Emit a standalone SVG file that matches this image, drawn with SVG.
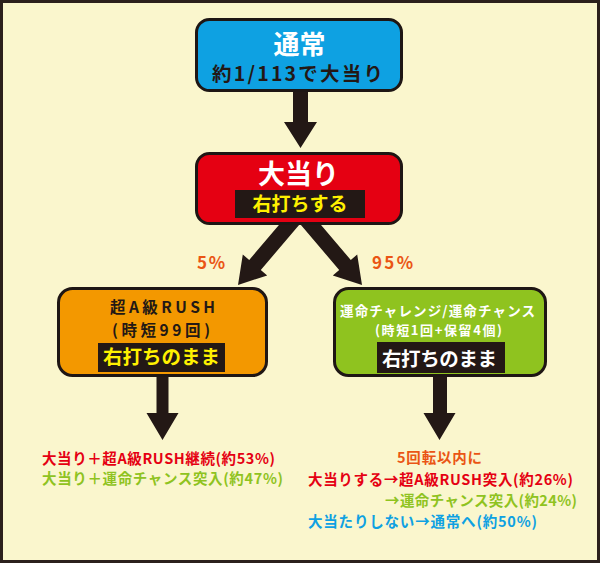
<svg xmlns="http://www.w3.org/2000/svg" width="600" height="563" viewBox="0 0 600 563">
<style>
text{font-family:"Noto Sans CJK JP","Noto Sans",sans-serif;font-weight:700;}
.box{stroke:#1e1614;stroke-width:3;}
.lbl{fill:#231815;}
.arr{fill:#231815;}
.c{text-anchor:middle;}
.yl{fill:#fff100;}
.wh{fill:#ffffff;}
.dk{fill:#231815;}
</style>
<rect x="1.5" y="1.5" width="597" height="560" fill="#faf6cd" stroke="#2b201c" stroke-width="3"/>
<g id="connectors">
<polygon class="arr" points="293,88 308,88 308,122 317,122 300.5,148 284,122 293,122"/>
<polygon class="arr" points="290,212 301.6,222 260.8,270 267.2,275.4 238,285 242.8,254.6 249.2,260"/>
<polygon class="arr" points="310,212 298.4,222 339.2,270 332.8,275.4 362,285 357.2,254.6 350.8,260"/>
<polygon class="arr" points="156.5,372 168.5,372 168.5,413 178.5,413 162.5,440 146.5,413 156.5,413"/>
<polygon class="arr" points="433,372 447,372 447,413 455.5,413 439.5,440 423.5,413 433,413"/>
<text x="211" y="269" class="c" font-size="17" fill="#ea5514" textLength="28">5%</text>
<text x="392.5" y="269" class="c" font-size="17" fill="#ea5514" textLength="41">95%</text>
</g>
<g id="node-normal">
<rect class="box" x="196.5" y="19.5" width="205" height="71" rx="13" fill="#0ea1e2"/>
<text x="299.5" y="54" class="c wh" font-size="26">通常</text>
<text x="297.5" y="81" class="c dk" font-size="19.5" textLength="171">約1/113で大当り</text>
</g>
<g id="node-hit">
<rect class="box" x="196.5" y="153.5" width="205" height="70" rx="13" fill="#e50012"/>
<text x="298.5" y="184" class="c wh" font-size="27">大当り</text>
<rect x="235" y="190" width="130" height="28" class="lbl"/>
<text x="300" y="211" class="c yl" font-size="19" textLength="95">右打ちする</text>
</g>
<g id="node-rush">
<rect class="box" x="58.5" y="288.5" width="208" height="87" rx="14" fill="#f39800"/>
<text x="162.5" y="312.5" class="c dk" font-size="15.5" textLength="105">超A級RUSH</text>
<text x="161" y="335.5" class="c dk" font-size="15.5" textLength="98">(時短99回)</text>
<rect x="98" y="343" width="127" height="29" class="lbl"/>
<text x="161.5" y="364" class="c yl" font-size="19.5" textLength="117">右打ちのまま</text>
</g>
<g id="node-chance">
<rect class="box" x="334.5" y="288.5" width="211" height="87" rx="14" fill="#8fc31f"/>
<text x="437.5" y="316" class="c wh" font-size="13.5" textLength="195">運命チャレンジ/運命チャンス</text>
<text x="438.5" y="335" class="c wh" font-size="13" textLength="127">(時短1回+保留4個)</text>
<rect x="377" y="342" width="128" height="31" class="lbl"/>
<text x="439.5" y="366" class="c wh" font-size="19.5" textLength="115">右打ちのまま</text>
</g>
<g id="result-rush">
<text x="42" y="464" font-size="14.5" fill="#e50012" textLength="233">大当り＋超A級RUSH継続(約53%)</text>
<text x="42" y="484" font-size="14.5" fill="#8fc31f" textLength="241">大当り＋運命チャンス突入(約47%)</text>
</g>
<g id="result-chance">
<text x="397" y="463" font-size="14.5" fill="#ea5514" textLength="85">5回転以内に</text>
<text x="308" y="485" font-size="14.5" fill="#e50012" textLength="265">大当りする→超A級RUSH突入(約26%)</text>
<text x="385" y="506" font-size="14.5" fill="#8fc31f" textLength="192">→運命チャンス突入(約24%)</text>
<text x="308" y="527" font-size="14.5" fill="#0ea1e2" textLength="229">大当たりしない→通常へ(約50%)</text>
</g>
</svg>
